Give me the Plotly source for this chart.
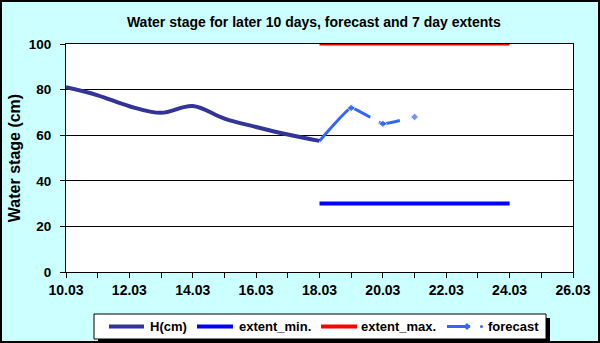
import plotly.graph_objects as go

# observed stage, cm
h_dates = ["2010-03-10", "2010-03-11", "2010-03-12", "2010-03-13", "2010-03-14",
           "2010-03-15", "2010-03-16", "2010-03-17", "2010-03-18"]
h_values = [81, 77.5, 72.7, 69.8, 72.8, 67.3, 63.6, 60.3, 57.5]

# forecast
fc_dates = ["2010-03-18", "2010-03-19", "2010-03-20", "2010-03-21"]
fc_values = [57.5, 72, 65, 68]

# 7 day extents
ext_dates = ["2010-03-18", "2010-03-24"]
ext_min = [30, 30]
ext_max = [100, 100]

W, H = 600, 343
ML, MR, MT, MB = 66, 27, 44, 71
PW, PH = W - ML - MR, H - MT - MB

def px_x(x):
    return (x - ML) / PW

def px_y(y):
    return (H - MB - y) / PH

def bold(size):
    return dict(family="Liberation Sans, Arial", size=size, color="black", weight="bold")

fig = go.Figure()

fig.add_trace(go.Scatter(
    x=fc_dates, y=fc_values, name="forecast", mode="lines+markers",
    line=dict(color="#3366FF", width=3, dash="67px,10px,22px,20px", shape="spline", smoothing=0.3),
    marker=dict(symbol="diamond", size=[0, 6, 6, 6], color="#3366FF")))
fig.add_trace(go.Scatter(
    x=h_dates, y=h_values, name="H(cm)", mode="lines",
    line=dict(color="#333399", width=4, shape="spline", smoothing=1)))
fig.add_trace(go.Scatter(
    x=ext_dates, y=ext_min, name="extent_min.", mode="lines",
    line=dict(color="#0000FF", width=4)))
fig.add_trace(go.Scatter(
    x=ext_dates, y=ext_max, name="extent_max.", mode="lines",
    line=dict(color="#FF0000", width=3), cliponaxis=False))

# outer frame
fig.add_shape(type="rect", xref="paper", yref="paper",
              x0=px_x(1), x1=px_x(599), y0=px_y(342), y1=px_y(1),
              line=dict(color="black", width=2), fillcolor="rgba(0,0,0,0)")

# hand-drawn legend box (Excel style with drop shadow)
fig.add_shape(type="rect", xref="paper", yref="paper",
              x0=px_x(98), x1=px_x(550), y0=px_y(343), y1=px_y(318),
              fillcolor="black", line_width=0)
fig.add_shape(type="rect", xref="paper", yref="paper",
              x0=px_x(94), x1=px_x(546), y0=px_y(339), y1=px_y(314),
              fillcolor="white", line=dict(color="black", width=1))

ly = 326.5
legend_items = [
    ("H(cm)", "#333399", 4, 109, 144, 148),
    ("extent_min.", "#0000FF", 4, 197, 233, 237),
    ("extent_max.", "#FF0000", 4, 321, 357, 359),
    ("forecast", "#3366FF", 3, 447, 470, 486),
]
for name, color, width, x0, x1, tx in legend_items:
    fig.add_shape(type="line", xref="paper", yref="paper",
                  x0=px_x(x0), x1=px_x(x1), y0=px_y(ly), y1=px_y(ly),
                  line=dict(color=color, width=width))
    fig.add_annotation(text=name, xref="paper", yref="paper",
                       x=px_x(tx), y=px_y(ly), xanchor="left", yanchor="middle",
                       showarrow=False, font=bold(13))

# forecast legend: diamond marker and the trailing dot
d = 3.5
fig.add_shape(type="path", xref="paper", yref="paper",
              path=f"M {px_x(467 - d)} {px_y(ly)} L {px_x(467)} {px_y(ly - d)} "
                   f"L {px_x(467 + d)} {px_y(ly)} L {px_x(467)} {px_y(ly + d)} Z",
              fillcolor="#3366FF", line_width=0)
fig.add_shape(type="circle", xref="paper", yref="paper",
              x0=px_x(480), x1=px_x(483), y0=px_y(ly + 1.5), y1=px_y(ly - 1.5),
              fillcolor="#3366FF", line_width=0)

fig.update_layout(
    width=W, height=H,
    margin=dict(l=ML, r=MR, t=MT, b=MB, autoexpand=False),
    paper_bgcolor="#CCFFFF", plot_bgcolor="white",
    font=bold(13),
    title=dict(text="Water stage for later 10 days, forecast and 7 day extents",
               x=0.523, xref="container", y=0.936, yref="container",
               xanchor="center", yanchor="middle", font=bold(14)),
    showlegend=False,
)

fig.update_xaxes(
    type="date", range=["2010-03-10", "2010-03-26"], automargin=False,
    dtick=2 * 86400000, tick0="2010-03-10", tickformat="%d.%m",
    ticks="outside", ticklen=5, tickcolor="black",
    minor=dict(dtick=86400000, ticks="outside", ticklen=5, tickcolor="black", showgrid=False),
    showline=True, linecolor="black", linewidth=1, mirror=True,
    showgrid=False, zeroline=False, tickfont=bold(14))

fig.update_yaxes(
    range=[0, 100], dtick=20, ticks="outside", ticklen=5, tickcolor="black",
    automargin=False, ticklabelstandoff=6,
    showline=True, linecolor="black", linewidth=1, mirror=True,
    showgrid=True, gridcolor="black", gridwidth=1, zeroline=False,
    tickfont=bold(13.5),
    title=dict(text="Water stage (cm)", font=bold(16), standoff=4))

fig.write_html("out.html", config={"displayModeBar": False},
               post_script="document.body.style.margin='0';")
